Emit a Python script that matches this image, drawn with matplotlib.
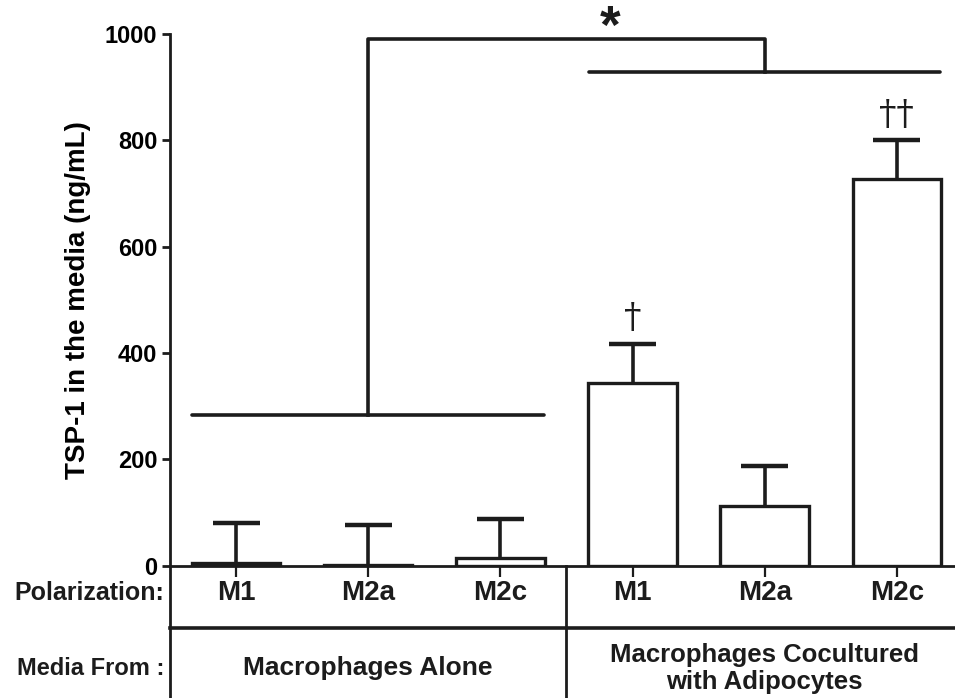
import matplotlib
matplotlib.use('Agg')
import numpy as np
import matplotlib.pyplot as plt

# ------------ Data ---------------
polarization = ['M1', 'M2a', 'M2c', 'M1', 'M2a', 'M2c']
tsp1 = [5, 2, 15, 343, 113, 728]          # ng/mL
sem = [75, 74, 73, 74, 74, 72]            # upper error only
groups = ['Macrophages Alone', 'Macrophages Cocultured\nwith Adipocytes']
marks = ['', '', '', '\u2020', '', '\u2020\u2020']

INK = '#1c1c1c'
plt.rcParams['font.family'] = ['Liberation Sans', 'DejaVu Sans']

# ------------ Plot Setup ---------------
fig = plt.figure(figsize=(9.55, 6.98), dpi=100)
ax = fig.add_axes([0.178, 0.1895, 0.822, 0.7618])

x = np.arange(len(tsp1))
top = np.array(tsp1) + np.array(sem)
ax.vlines(x, tsp1, top, color=INK, lw=2.6, zorder=1)
ax.hlines(top, x - 0.178, x + 0.178, color=INK, lw=3.2, zorder=1)
ax.bar(x, tsp1, width=0.67, color='white', edgecolor=INK, linewidth=2.4, zorder=2)

ax.set_xlim(-0.5, 5.44)
ax.set_ylim(0, 1000)
ax.set_yticks(np.arange(0, 1001, 200))
ax.set_xticks(x)
ax.set_xticklabels([])
ax.tick_params(axis='y', direction='out', length=6, width=2, color=INK,
               labelsize=17, pad=3)
ax.tick_params(axis='x', direction='out', length=8, width=1.6, color=INK)
for lab in ax.get_yticklabels():
    lab.set_fontweight('bold')
ax.set_ylabel('TSP-1 in the media (ng/mL)', fontsize=20, fontweight='bold', labelpad=10)
for s in ['top', 'right']:
    ax.spines[s].set_visible(False)
for s in ['left', 'bottom']:
    ax.spines[s].set_linewidth(2)
    ax.spines[s].set_color(INK)

# daggers above error bars
for xi, t, m in zip(x, top, marks):
    if m:
        ax.text(xi, t + 16, m, ha='center', va='bottom', fontsize=25,
                family=['DejaVu Serif'], color=INK, clip_on=False)

# significance brackets
lw = 2.6
ax.plot([-0.33, 2.33], [283, 283], color=INK, lw=lw, clip_on=False, solid_capstyle='round')
ax.plot([3 - 0.33, 5 + 0.33], [929, 929], color=INK, lw=lw, clip_on=False, solid_capstyle='round')
ax.plot([1, 1, 4, 4], [283, 990, 990, 929], color=INK, lw=lw, clip_on=False)
ax.text(2.83, 984, '*', ha='center', va='baseline', fontsize=38, fontweight='bold',
        color=INK, clip_on=False)

# ------------ Table below axis ---------------
ax.plot([-0.5, -0.5], [0, -260], color=INK, lw=2, clip_on=False)
ax.plot([2.5, 2.5], [0, -260], color=INK, lw=2, clip_on=False)
ax.plot([-0.5, 5.44], [-117, -117], color=INK, lw=2.6, clip_on=False)

for xi, p in zip(x, polarization):
    ax.text(xi, -52, p, ha='center', va='center', fontsize=20, fontweight='bold',
            color=INK)
ax.text(-0.54, -52, 'Polarization:', ha='right', va='center', fontsize=18,
        fontweight='bold', color=INK)
ax.text(-0.54, -193, 'Media From :', ha='right', va='center', fontsize=17,
        fontweight='bold', color=INK)
ax.text(1, -193, groups[0], ha='center', va='center', fontsize=19,
        fontweight='bold', color=INK)
ax.text(4, -193, groups[1], ha='center', va='center', fontsize=18.5,
        fontweight='bold', color=INK, linespacing=1.15)

fig.savefig('out.png', dpi=100)
